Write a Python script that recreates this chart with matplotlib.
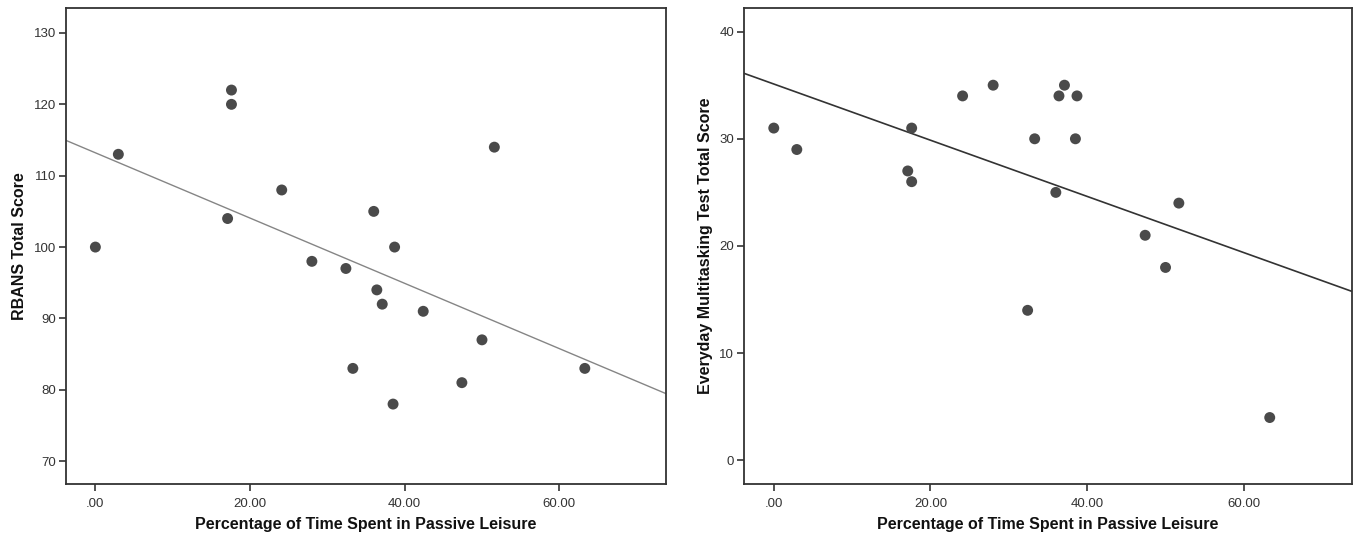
import matplotlib as mpl
mpl.use("agg")
import matplotlib.pyplot as plt
import numpy as np

# percentage of time spent in passive leisure (same participants in both panels)
leisure_left = [0.0, 2.97, 17.1, 17.6, 17.6, 24.1, 28.0, 32.4, 33.3, 36.0,
                36.4, 37.1, 38.7, 38.5, 42.4, 47.4, 50.0, 51.6, 63.3]
rbans = [100, 113, 104, 122, 120, 108, 98, 97, 83, 105,
         94, 92, 100, 78, 91, 81, 87, 114, 83]

leisure_right = [0.0, 2.94, 17.1, 17.6, 17.6, 24.1, 28.0, 32.4, 33.3, 36.0,
                 36.4, 37.1, 38.7, 38.5, 47.4, 50.0, 51.7, 63.3]
emt = [31, 29, 27, 26, 31, 34, 35, 14, 30, 25,
       34, 35, 34, 30, 21, 18, 24, 4]

xticks = [0, 20, 40, 60]
xticklabels = ['.00', '20.00', '40.00', '60.00']
yticks_left = [70, 80, 90, 100, 110, 120, 130]
yticks_right = [0, 10, 20, 30, 40]

xlabel = 'Percentage of Time Spent in Passive Leisure'
ylabel_left = 'RBANS Total Score'
ylabel_right = 'Everyday Multitasking Test Total Score'

plt.rcParams['font.family'] = ['Liberation Sans', 'DejaVu Sans']

fig = plt.figure(figsize=(13.6, 5.4), dpi=100)
ax1 = fig.add_axes([66/1360, 56/540, 600/1360, 476/540])
ax2 = fig.add_axes([744/1360, 56/540, 608/1360, 476/540])

xlim = (-3.8, 73.8)


def style(ax, x, y, yticks, ylim, ylab, ylab_x, line_color, line_w):
    ax.scatter(x, y, s=62, color='#4a4a4a', edgecolors='none', zorder=3)
    k, b = np.polyfit(x, y, 1)
    xs = np.array(xlim)
    ax.plot(xs, k * xs + b, color=line_color, lw=line_w, zorder=2)
    ax.set_xlim(xlim)
    ax.set_ylim(ylim)
    ax.set_xticks(xticks)
    ax.set_xticklabels(xticklabels)
    ax.set_yticks(yticks)
    for s in ax.spines.values():
        s.set_color('#333333')
        s.set_linewidth(1.3)
    ax.tick_params(direction='out', length=5, width=1.2, color='#333333',
                   labelsize=9.5, labelcolor='#333333', top=False, right=False)
    ax.tick_params(axis='x', pad=5)
    ax.tick_params(axis='y', pad=2)
    ax.set_xlabel(xlabel, fontsize=11.5, fontweight='bold', color='#111111')
    ax.set_ylabel(ylab, fontsize=11.5, fontweight='bold', color='#111111')
    ax.xaxis.set_label_coords(0.5, -0.07)
    ax.yaxis.set_label_coords(ylab_x, 0.5)


style(ax1, leisure_left, rbans, yticks_left, (66.8, 133.5), ylabel_left, -0.065,
      '#858585', 1.0)
style(ax2, leisure_right, emt, yticks_right, (-2.2, 42.2), ylabel_right, -0.051,
      '#333333', 1.2)

plt.savefig('out.png', dpi=100)
